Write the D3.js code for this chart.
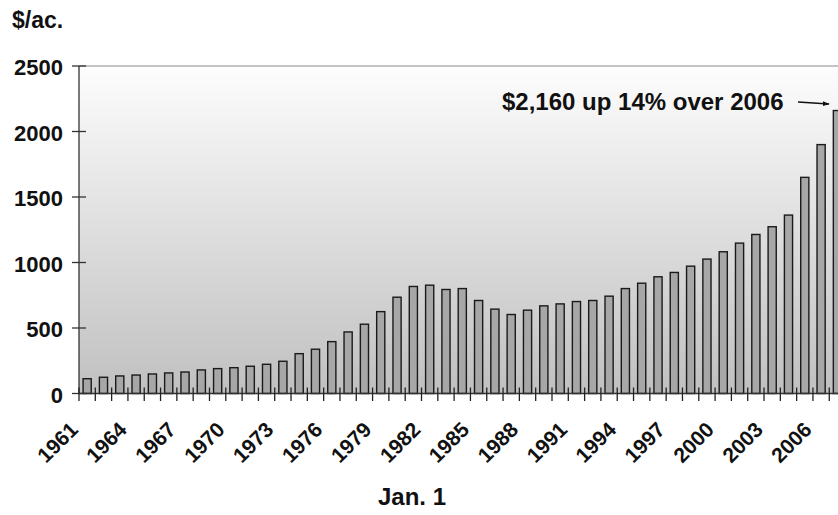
<!DOCTYPE html>
<html>
<head>
<meta charset="utf-8">
<script src="https://cdn.jsdelivr.net/npm/d3@7"></script>
<style>
  html, body { margin: 0; padding: 0; background: #fff; }
  svg { display: block; }
  text { font-family: "Liberation Sans", Arial, sans-serif; font-weight: bold; fill: #111; }
</style>
</head>
<body>
<svg id="chart" width="838" height="515"></svg>
<script>
// ---- data ----
const years = d3.range(1961, 2008).map(String);
const values = [113, 124, 134, 141, 149, 157, 164, 180, 190, 197,
                208, 223, 246, 304, 338, 396, 470, 529, 625, 735,
                817, 827, 794, 801, 710, 644, 603, 636, 669, 684,
                702, 710, 743, 801, 842, 891, 924, 972, 1026, 1082,
                1148, 1214, 1273, 1362, 1650, 1900, 2160];
const yTicks = [0, 500, 1000, 1500, 2000, 2500];
const xLabels = years.filter((d, i) => i % 3 === 0);
const yUnit = "$/ac.";
const xTitle = "Jan. 1";
const note = "$2,160 up 14% over 2006";

// ---- layout ----
const svg = d3.select("#chart");
const plotLeft = 79, plotTop = 66, plotBottom = 393.5, plotRight = 838;
const step = 16.31;
const x = d3.scaleBand().domain(years).range([plotLeft, plotLeft + step * years.length]).padding(0);
const y = d3.scaleLinear().domain([0, 2500]).range([plotBottom, plotTop]);

const defs = svg.append("defs");
const grad = defs.append("linearGradient").attr("id", "bg").attr("x1", 0).attr("y1", 0).attr("x2", 0).attr("y2", 1);
grad.append("stop").attr("offset", "0%").attr("stop-color", "#fdfdfd");
grad.append("stop").attr("offset", "100%").attr("stop-color", "#c0c0c0");
const mk = defs.append("marker").attr("id", "arr").attr("viewBox", "0 0 10 10")
  .attr("refX", 9).attr("refY", 5).attr("markerWidth", 7).attr("markerHeight", 7)
  .attr("orient", "auto").attr("markerUnits", "userSpaceOnUse");
mk.append("path").attr("d", "M0,1.5 L10,5 L0,8.5 z").attr("fill", "#111");

// plot background
svg.append("rect").attr("x", plotLeft).attr("y", y(2500)).attr("width", plotRight - plotLeft)
  .attr("height", y(0) - y(2500)).attr("fill", "url(#bg)");
svg.append("line").attr("x1", plotLeft).attr("x2", plotRight).attr("y1", y(2500)).attr("y2", y(2500))
  .attr("stroke", "#8a8a8a").attr("stroke-width", 1.2);

// bars
const bw = x.bandwidth();
svg.append("g").selectAll("rect").data(years).join("rect")
  .attr("x", d => x(d) + bw * 0.25)
  .attr("width", bw * 0.5)
  .attr("y", (d, i) => y(values[i]))
  .attr("height", (d, i) => y(0) - y(values[i]))
  .attr("fill", "#a7a7a7").attr("stroke", "#1a1a1a").attr("stroke-width", 1.4);

// y axis
svg.append("line").attr("x1", plotLeft).attr("x2", plotLeft).attr("y1", y(2500)).attr("y2", y(0))
  .attr("stroke", "#333").attr("stroke-width", 1.3);
const yg = svg.append("g");
yg.selectAll("line").data(yTicks).join("line")
  .attr("x1", plotLeft - 7).attr("x2", plotLeft + 7).attr("y1", d => y(d)).attr("y2", d => y(d))
  .attr("stroke", "#333").attr("stroke-width", 1.3);
yg.selectAll("text").data(yTicks).join("text")
  .attr("x", plotLeft - 16).attr("y", d => y(d) + 9)
  .attr("text-anchor", "end").attr("font-size", 22).text(d => d);

// x axis
svg.append("line").attr("x1", plotLeft).attr("x2", plotRight).attr("y1", y(0)).attr("y2", y(0))
  .attr("stroke", "#333").attr("stroke-width", 1.3);
const bounds = years.map(d => x(d));
svg.append("g").selectAll("line").data(bounds).join("line")
  .attr("x1", d => d).attr("x2", d => d).attr("y1", y(0) - 6).attr("y2", y(0) + 7.5)
  .attr("stroke", "#222").attr("stroke-width", 1.3);
svg.append("g").selectAll("text").data(xLabels).join("text")
  .attr("transform", d => `translate(${x(d) + bw / 2 - 8},${y(0) + 37.5}) rotate(-45)`)
  .attr("text-anchor", "end").attr("font-size", 21).text(d => d);

// titles
svg.append("text").attr("x", 12).attr("y", 28).attr("font-size", 23).text(yUnit);
svg.append("text").attr("x", 412).attr("y", 505).attr("text-anchor", "middle").attr("font-size", 24).text(xTitle);

// annotation
svg.append("text").attr("x", 502).attr("y", 110).attr("font-size", 24).text(note);
svg.append("line").attr("x1", 798).attr("y1", 102).attr("x2", 829).attr("y2", 104)
  .attr("stroke", "#111").attr("stroke-width", 1.5).attr("marker-end", "url(#arr)");
</script>
</body>
</html>
